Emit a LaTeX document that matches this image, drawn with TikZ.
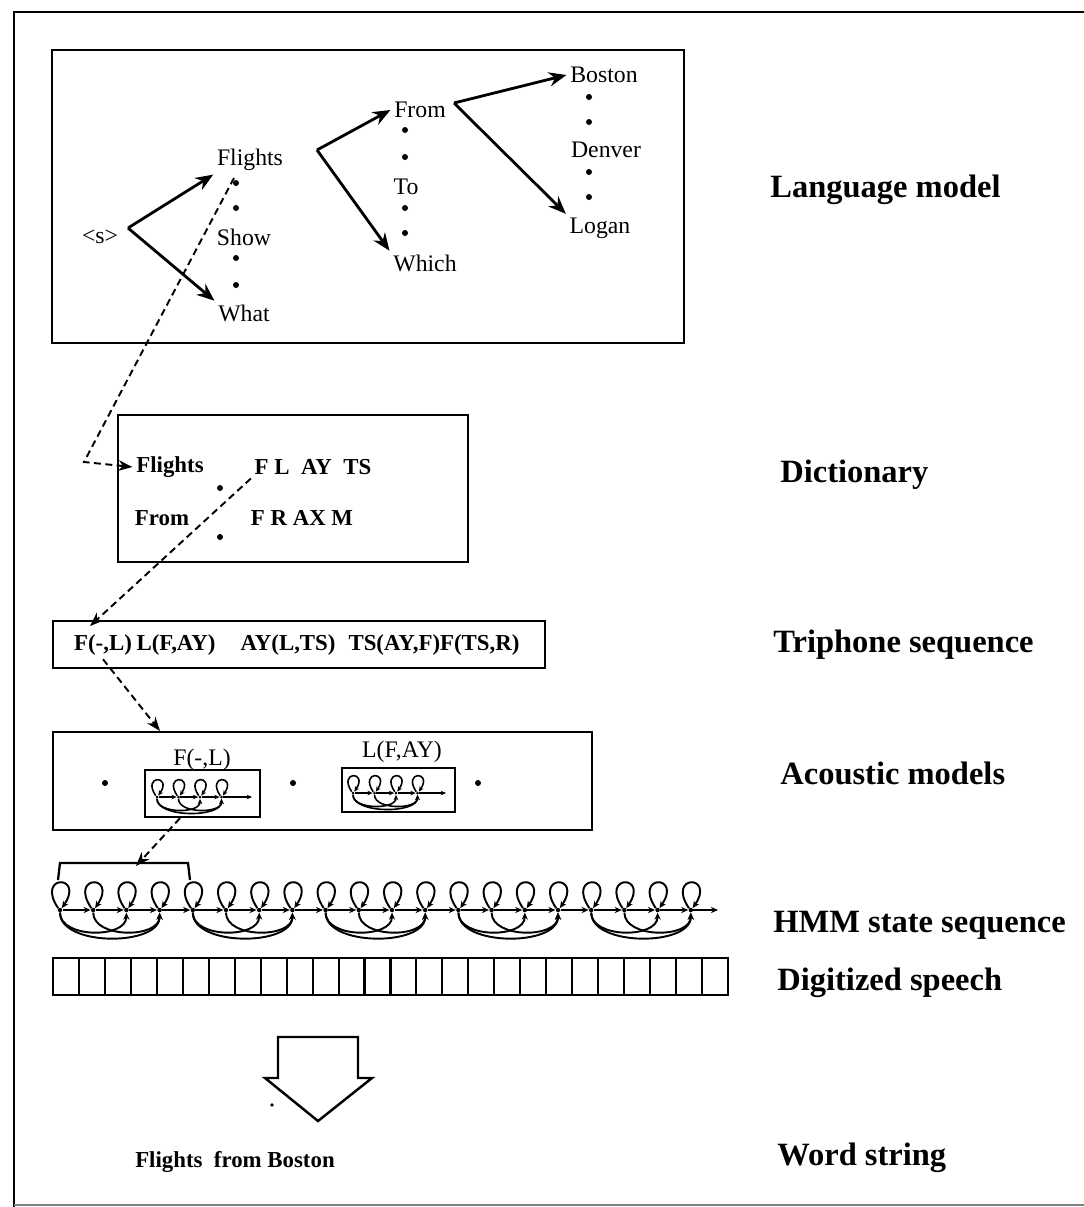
\documentclass[tikz,border=0pt]{standalone}
\usepackage{fontspec}
\setmainfont{Liberation Serif}
\usetikzlibrary{arrows.meta}

\tikzset{
  word/.style={font=\fontsize{13.5}{15}\selectfont, inner sep=2pt},
  bword/.style={font=\fontsize{13}{15}\selectfont\bfseries, inner sep=2pt},
  tag/.style={font=\fontsize{18.5}{20}\selectfont\bfseries, anchor=west, inner sep=0pt},
  box/.style={line width=1.4pt},
  lmarrow/.style={-{Stealth[length=10pt,width=8pt]}, line width=1.6pt},
  dasharrow/.style={-{Stealth[length=8pt,width=6pt]}, line width=1.1pt, dash pattern=on 4pt off 2.5pt},
  hmmstate/.style={circle, fill, inner sep=0pt, minimum size=0.09cm},
  ministate/.style={circle, fill, inner sep=0pt, minimum size=0.06cm},
  loopline/.style={-{Stealth[length=4pt,width=3.5pt]}, line width=1.1pt},
  chainline/.style={-{Stealth[length=4pt,width=3.5pt]}, line width=1.1pt},
  miniline/.style={-{Stealth[length=3pt,width=2.6pt]}, line width=0.9pt},
}

\begin{document}
\begin{tikzpicture}[x=0.02cm, y=-0.02cm]
      \useasboundingbox (0,0) rectangle (1084,1207);

      % frame
      \draw[line width=1.4pt] (1084,12) -- (14,12) -- (14,1207);
      \draw[gray, line width=1pt] (14,1205) -- (1084,1205);

      % language model
      \draw[box] (52,50) rectangle (684,343);
      \node[word] (s) at (100,237) {\textless s\textgreater};
      \node[word] (flights) at (250,160) {Flights};
      \node[word] (show) at (244,237) {Show};
      \node[word] (what) at (244,313) {What};
      \node[word] (from) at (420,110) {From};
      \node[word] (to) at (406,187) {To};
      \node[word] (which) at (425,263) {Which};
      \node[word] (boston) at (604,75) {Boston};
      \node[word] (denver) at (606,150) {Denver};
      \node[word] (logan) at (600,228) {Logan};
      \foreach \y in {183,208,258,285} \fill (236,\y) circle (3);
      \foreach \y in {130,157,208,233} \fill (405,\y) circle (3);
      \foreach \y in {97,122,172,197} \fill (589,\y) circle (3);

      \coordinate (v1) at (128,228);
      \coordinate (v2) at (317,150);
      \coordinate (v3) at (454,103);
      \draw[lmarrow] (v1) -- (flights.south west);
      \draw[lmarrow] (v1) -- (what.north west);
      \draw[lmarrow] (v2) -- (from.west);
      \draw[lmarrow] (v2) -- (which.north west);
      \draw[lmarrow] (v3) -- (boston.west);
      \draw[lmarrow] (v3) -- (logan.north west);

      % dictionary
      \draw[box] (118,415) rectangle (468,562);
      \node[bword] (dflights) at (170,467) {Flights};
      \node[bword] (dfrom) at (162,518) {From};
      \node[bword] (dphon1) at (313,467) {F~L~~AY~~TS};
      \node[bword] (dphon2) at (302,518) {F~R~AX~M};
      \fill (220,488) circle (3);
      \fill (220,537) circle (3);

      \coordinate (fdot) at (234,178);
      \coordinate (dbend) at (84,462);
      \draw[dasharrow] (fdot) -- (dbend) -- (dflights.west);

      % triphone sequence
      \draw[box] (53,621) rectangle (545,668);
      \node[bword] (t1) at (103,645) {F(-,L)};
      \node[bword] (t2) at (176,645) {L(F,AY)};
      \node[bword] (t3) at (288,645) {AY(L,TS)};
      \node[bword] (t4) at (434,645) {TS(AY,F)F(TS,R)};
      \coordinate (tritip) at (90,626);
      \draw[dasharrow] (dphon1.south west) -- (tritip);

      % acoustic models
      \draw[box] (53,732) rectangle (592,830);
      \node[word] (al1) at (202,760) {F(-,L)};
      \node[word] (al2) at (402,752) {L(F,AY)};
      \node[draw, line width=1.3pt, minimum width=2.3cm, minimum height=0.94cm] (am1) at (202.5,793.5) {};
      \node[draw, line width=1.3pt, minimum width=2.26cm, minimum height=0.88cm] (am2) at (398.5,790) {};
      \foreach \x in {105,293,478} \fill (\x,783) circle (3);
      \foreach \nm/\ox/\oy/\ex in {p/157/797/252, q/353/793/446} {
        \foreach \i in {0,...,3} {
          \node[ministate] (\nm\i) at ({\ox+21.5*\i},\oy) {};
          \draw[miniline] (\nm\i.135) .. controls +(-14,-21) and +(14,-21) .. (\nm\i.45);
        }
        \coordinate (\nm e) at (\ex,\oy);
        \draw[miniline] (\nm0) -- (\nm1);
        \draw[miniline] (\nm1) -- (\nm2);
        \draw[miniline] (\nm2) -- (\nm3);
        \draw[miniline] (\nm3) -- (\nm e);
        \draw[miniline] (\nm0.south) .. controls +(0,15) and +(0,15) .. (\nm2.south);
        \draw[miniline] (\nm1.south) .. controls +(0,15) and +(0,15) .. (\nm3.south);
        \draw[miniline] (\nm0.south) .. controls +(0,19) and +(0,19) .. (\nm3.south);
      }
      \coordinate (acctip) at (160,731);
      \draw[dasharrow] (t1.south) -- (acctip);

      % HMM state sequence
      \foreach \i in {0,...,19} {
        \node[hmmstate] (h\i) at ({60+33.2*\i},910) {};
        \draw[loopline] (h\i.135) .. controls +(-23,-34) and +(23,-34) .. (h\i.45);
      }
      \foreach \i [evaluate=\i as \j using int(\i+1)] in {0,...,18}
        \draw[chainline] (h\i) -- (h\j);
      \coordinate (hend) at (718,910);
      \draw[chainline] (h19) -- (hend);
      \foreach \m [evaluate=\m as \b using int(\m+1), evaluate=\m as \c using int(\m+2),
                   evaluate=\m as \d using int(\m+3)] in {0,4,...,16} {
        \draw[chainline] (h\m.south) .. controls +(0,26) and +(0,26) .. (h\c.south);
        \draw[chainline] (h\b.south) .. controls +(0,26) and +(0,26) .. (h\d.south);
        \draw[chainline] (h\m.south) .. controls +(0,34) and +(0,34) .. (h\d.south);
      }
      \draw[line width=1.3pt] (58,880) -- (60,863) -- (188,863) -- (190,880);
      \coordinate (brtip) at (136,866);
      \draw[dasharrow] ([xshift=-0.45cm]am1.south) -- (brtip);

      % digitized speech
      \draw[box] (53,958) rectangle (728,995);
      \foreach \k in {1,...,25} \draw[line width=1.2pt] ({53+\k*25.96},958) -- ++(0,37);

      % word string
      \draw[line width=1.4pt] (278,1037) -- (358,1037) -- (358,1078) -- (372,1078)
            -- (318,1121) -- (265,1078) -- (278,1078) -- cycle;
      \fill (272,1105) circle (1.8);
      \node[bword] (wstring) at (235,1162) {Flights~~from Boston};

      % labels on the right
      \node[tag] (lmlabel) at (770,190) {Language model};
      \node[tag] (dilabel) at (780,475) {Dictionary};
      \node[tag] (trlabel) at (773,645) {Triphone sequence};
      \node[tag] (aclabel) at (780,773) {Acoustic models};
      \node[tag] (hmlabel) at (773,925) {HMM state sequence};
      \node[tag] (dslabel) at (777,983) {Digitized speech};
      \node[tag] (wslabel) at (777,1158) {Word string};
    \end{tikzpicture}
\end{document}
